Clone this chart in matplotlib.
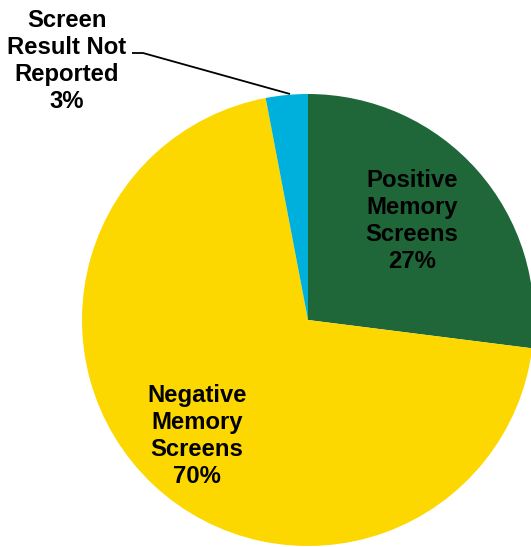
import matplotlib
matplotlib.use("Agg")
import matplotlib.pyplot as plt

categories = ["Positive\nMemory\nScreens", "Negative\nMemory\nScreens", "Screen\nResult Not\nReported"]
values = [27, 70, 3]
colors = ["#1F6639", "#FCD800", "#00B0DC"]

W, H = 531, 547
fig = plt.figure(figsize=(W / 100, H / 100), dpi=100)
ax = fig.add_axes([0, 0, 1, 1])

cx, cy, r = 308, H - 320, 226
ax.pie(values, colors=colors, startangle=90, counterclock=False,
       center=(cx, cy), radius=r, frame=True,
       wedgeprops=dict(linewidth=0))
ax.set_xlim(0, W)
ax.set_ylim(0, H)
ax.set_aspect("equal")
ax.axis("off")

font = dict(family=["Liberation Sans", "DejaVu Sans"], fontsize=17.2,
            fontweight="bold", ha="center", va="center", linespacing=1.21)

def label(i):
    return f"{categories[i]}\n{values[i]}%"

ax.text(412, H - 221, label(0), **font)
ax.text(197, H - 436, label(1), **font)
ax.text(67, H - 61, label(2), **font)

# leader line for the small slice
ax.plot([132, 143, 290], [H - 53, H - 53, H - 94], color="black", lw=1.3,
        solid_capstyle="butt")

fig.savefig("out.png", dpi=100)
